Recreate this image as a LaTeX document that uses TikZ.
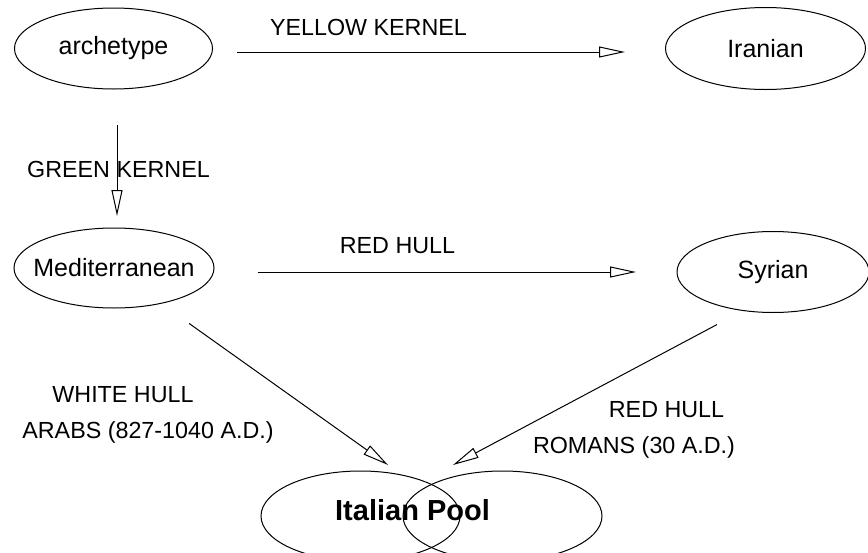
\documentclass[tikz,border=0pt]{standalone}
\usepackage{fontspec}
\setmainfont{Liberation Sans}
\usetikzlibrary{arrows.meta,shapes.geometric}
\definecolor{ink}{HTML}{000000}

\begin{document}
\begin{tikzpicture}[x=1pt,y=-1pt,
      race/.style={draw=ink,ellipse,line width=1pt,inner sep=0pt,font=\fontsize{25}{30}\selectfont},
      pool/.style={draw=ink,line width=1pt},
      conn/.style={draw=ink,line width=1pt,-{Triangle[open,length=26pt,width=11pt]}},
      lbl/.style={anchor=base,font=\fontsize{23.3}{28}\selectfont}]
    % canvas in pixel units, y runs down
    \useasboundingbox (0,0) rectangle (868,552);

    % populations
    \node[race,minimum width=198pt,minimum height=81pt] (archetype) at (113.5,48.5) {archetype};
    \node[race,minimum width=200pt,minimum height=82pt] (Iranian) at (765.5,48.5) {Iranian};
    \node[race,inner xsep=-14pt,minimum width=200pt,minimum height=80pt] (Mediterranean) at (114,268) {Mediterranean};
    \node[race,minimum width=192pt,minimum height=81pt] (Syrian) at (773,272) {Syrian};

    % the pool: two overlapping ellipses, cut by the bottom edge
    \draw[pool] (360.5,516) ellipse [x radius=99.5pt, y radius=45pt];
    \draw[pool] (502.5,516) ellipse [x radius=99.5pt, y radius=45pt];
    \node[anchor=base,font=\bfseries\fontsize{29}{34}\selectfont] (pool) at (412.5,520) {Italian Pool};
    \coordinate (arabsIn) at (388,465);
    \coordinate (romansIn) at (453,465);

    % connectors
    \draw[conn,shorten <=24pt,shorten >=40pt] ([yshift=-3.5pt]archetype.east) -- ([yshift=-3.5pt]Iranian.west);
    \draw[conn,shorten <=35.5pt,shorten >=11.5pt] ([xshift=3.5pt]archetype.south) -- ([xshift=3.5pt]archetype.south |- Mediterranean.north);
    \draw[conn,shorten <=43pt,shorten >=40.5pt] (Mediterranean.east |- Syrian.west) -- (Syrian.west);
    \draw[conn,shorten <=34pt] (Mediterranean.323) -- (arabsIn);
    \draw[conn,shorten <=29pt] (Syrian.232) -- (romansIn);

    % connector labels
    \node[lbl] (yellowLbl) at (368.5,35) {YELLOW KERNEL};
    \node[lbl] (greenLbl) at (118.5,177) {GREEN KERNEL};
    \node[lbl] (redLbl) at (397.5,253) {RED HULL};
    \node[lbl] (whiteLbl) at (123,402) {WHITE HULL};
    \node[lbl] (arabsLbl) at (148,438) {ARABS (827-1040 A.D.)};
    \node[lbl] (redRomLbl) at (666.5,417) {RED HULL};
    \node[lbl] (romansLbl) at (634,453) {ROMANS (30 A.D.)};
  \end{tikzpicture}
\end{document}
